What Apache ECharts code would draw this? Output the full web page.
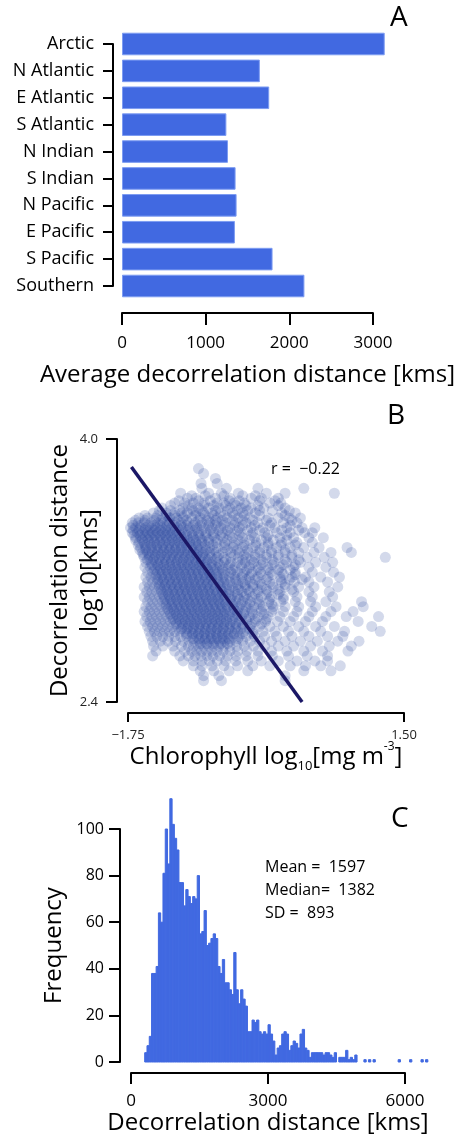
<!DOCTYPE html>
<html><head><meta charset="utf-8">
<script src="https://cdn.jsdelivr.net/npm/echarts@6/dist/echarts.min.js"></script>
<style>html,body{margin:0;padding:0;background:#fff}#c{width:457px;height:1139px}</style>
</head><body><div id="c"></div>
<script>
// ---------- Panel A data ----------
const regions = ['Arctic','N Atlantic','E Atlantic','S Atlantic','N Indian','S Indian','N Pacific','E Pacific','S Pacific','Southern'];
const avgDecorr = [3141, 1648, 1760, 1248, 1267, 1358, 1370, 1350, 1800, 2181];

// ---------- Panel B data (log10 chlorophyll vs log10 decorrelation distance) ----------
const rowY = [3.82,3.79,3.76,3.73,3.70,3.67,3.64,3.61,3.58,3.55,3.52,3.49,3.46,3.43,3.40,3.37,3.34,3.31,3.28,3.25,3.22,3.19,3.16,3.13,3.10,3.07,3.04,3.01,2.98,2.95,2.92,2.89,2.86,2.83,2.80,2.77,2.74,2.71,2.68,2.65,2.62,2.59,2.56,2.53];
const rowX = [
 [-0.92],
 [-0.86],
 [-0.72],
 [-0.89,-0.70],
 [-0.88,-0.59,-0.22,0.32],
 [-1.13,-0.80,-0.65,-0.45,-0.12,0.10,0.68],
 [-1.05,-0.95,-0.72,-0.55,-0.30,-0.18,0.02],
 [-1.20,-1.08,-0.98,-0.85,-0.70,-0.62,-0.50,-0.38,-0.08,0.05],
 [-1.35,-1.10,-1.00,-0.92,-0.80,-0.68,-0.55,-0.42,-0.30,-0.15,0.10],
 [-1.45,-1.30,-1.20,-1.12,-1.05,-0.95,-0.86,-0.76,-0.66,-0.52,-0.40,-0.25,0.06,0.22],
 [-1.62,-1.52,-1.42,-1.34,-1.26,-1.18,-1.10,-1.00,-0.90,-0.80,-0.70,-0.58,-0.45,-0.32,-0.10,0.02,0.15,0.28],
 [-1.70,-1.63,-1.56,-1.48,-1.40,-1.33,-1.26,-1.19,-1.12,-1.04,-0.96,-0.88,-0.79,-0.70,-0.60,-0.48,-0.36,-0.22,-0.06,0.08,0.24],
 [-1.72,-1.66,-1.60,-1.54,-1.48,-1.42,-1.36,-1.30,-1.24,-1.17,-1.10,-1.02,-0.94,-0.85,-0.76,-0.66,-0.55,-0.44,-0.30,-0.16,-0.02,0.12,0.30,0.45],
 [-1.70,-1.64,-1.58,-1.52,-1.46,-1.40,-1.34,-1.28,-1.22,-1.15,-1.08,-1.00,-0.92,-0.83,-0.74,-0.64,-0.54,-0.42,-0.28,-0.14,0.00,0.16,0.33,0.42],
 [-1.66,-1.60,-1.54,-1.48,-1.42,-1.36,-1.30,-1.24,-1.18,-1.12,-1.05,-0.98,-0.90,-0.82,-0.73,-0.63,-0.52,-0.40,-0.26,-0.12,0.04,0.20,0.38,0.55],
 [-1.62,-1.56,-1.50,-1.44,-1.38,-1.32,-1.26,-1.20,-1.14,-1.08,-1.02,-0.95,-0.88,-0.80,-0.71,-0.61,-0.50,-0.38,-0.24,-0.10,0.06,0.24,0.42],
 [-1.60,-1.54,-1.48,-1.42,-1.36,-1.30,-1.24,-1.18,-1.12,-1.06,-1.00,-0.94,-0.87,-0.79,-0.70,-0.61,-0.51,-0.40,-0.28,-0.15,0.00,0.16,0.32,0.50,0.83],
 [-1.58,-1.52,-1.46,-1.40,-1.34,-1.28,-1.22,-1.16,-1.10,-1.04,-0.98,-0.92,-0.86,-0.79,-0.71,-0.63,-0.54,-0.44,-0.33,-0.20,-0.06,0.10,0.26,0.44,0.64,0.88],
 [-1.56,-1.50,-1.44,-1.38,-1.32,-1.26,-1.20,-1.14,-1.08,-1.02,-0.96,-0.90,-0.84,-0.77,-0.70,-0.62,-0.54,-0.45,-0.36,-0.25,-0.12,0.02,0.18,0.36,0.56,1.28],
 [-1.54,-1.48,-1.42,-1.36,-1.30,-1.24,-1.18,-1.12,-1.06,-1.00,-0.94,-0.88,-0.82,-0.76,-0.69,-0.62,-0.54,-0.46,-0.37,-0.27,-0.16,-0.03,0.12,0.28,0.46,0.66],
 [-1.55,-1.49,-1.43,-1.37,-1.31,-1.25,-1.19,-1.13,-1.07,-1.01,-0.95,-0.89,-0.83,-0.77,-0.71,-0.64,-0.57,-0.49,-0.41,-0.32,-0.22,-0.10,0.04,0.20,0.38,0.58],
 [-1.52,-1.46,-1.40,-1.34,-1.28,-1.22,-1.16,-1.10,-1.04,-0.98,-0.92,-0.86,-0.80,-0.74,-0.68,-0.61,-0.54,-0.46,-0.38,-0.29,-0.19,-0.07,0.06,0.22,0.42,0.67],
 [-1.54,-1.48,-1.42,-1.36,-1.30,-1.24,-1.18,-1.12,-1.06,-1.00,-0.94,-0.88,-0.82,-0.76,-0.70,-0.63,-0.56,-0.49,-0.41,-0.32,-0.22,-0.10,0.04,0.18,0.34,0.52,0.74],
 [-1.52,-1.46,-1.40,-1.34,-1.28,-1.22,-1.16,-1.10,-1.04,-0.98,-0.92,-0.86,-0.80,-0.74,-0.68,-0.62,-0.55,-0.48,-0.40,-0.31,-0.20,-0.08,0.06,0.21,0.38,0.60],
 [-1.56,-1.50,-1.44,-1.38,-1.32,-1.26,-1.20,-1.14,-1.08,-1.02,-0.96,-0.90,-0.84,-0.78,-0.72,-0.66,-0.59,-0.52,-0.45,-0.37,-0.28,-0.17,-0.04,0.10,0.26,0.44,0.72],
 [-1.53,-1.47,-1.41,-1.35,-1.29,-1.23,-1.17,-1.11,-1.05,-0.99,-0.93,-0.87,-0.81,-0.75,-0.69,-0.63,-0.56,-0.49,-0.41,-0.32,-0.22,-0.10,0.04,0.20,0.38,0.62],
 [-1.56,-1.50,-1.44,-1.38,-1.32,-1.26,-1.20,-1.14,-1.08,-1.02,-0.96,-0.90,-0.84,-0.78,-0.72,-0.66,-0.60,-0.53,-0.46,-0.38,-0.29,-0.18,-0.06,0.08,0.24,0.42,0.66],
 [-1.52,-1.46,-1.40,-1.34,-1.28,-1.22,-1.16,-1.10,-1.04,-0.98,-0.92,-0.86,-0.80,-0.74,-0.68,-0.62,-0.55,-0.48,-0.40,-0.31,-0.21,-0.09,0.05,0.22,0.40,0.58,1.00],
 [-1.54,-1.48,-1.42,-1.36,-1.30,-1.24,-1.18,-1.12,-1.06,-1.00,-0.94,-0.88,-0.82,-0.76,-0.70,-0.64,-0.58,-0.51,-0.44,-0.36,-0.27,-0.16,-0.04,0.10,0.26,0.46,0.70,1.02],
 [-1.56,-1.50,-1.44,-1.38,-1.32,-1.26,-1.20,-1.14,-1.08,-1.02,-0.96,-0.90,-0.84,-0.78,-0.72,-0.66,-0.60,-0.53,-0.46,-0.38,-0.29,-0.18,-0.06,0.08,0.24,0.42,0.64,0.90],
 [-1.53,-1.47,-1.41,-1.35,-1.29,-1.23,-1.17,-1.11,-1.05,-0.99,-0.93,-0.87,-0.81,-0.75,-0.69,-0.63,-0.56,-0.49,-0.41,-0.32,-0.22,-0.10,0.04,0.20,0.38,0.58,0.82,1.20],
 [-1.55,-1.49,-1.43,-1.37,-1.31,-1.25,-1.19,-1.13,-1.07,-1.01,-0.95,-0.89,-0.83,-0.77,-0.71,-0.65,-0.59,-0.52,-0.44,-0.35,-0.25,-0.13,0.01,0.16,0.34,0.54,0.96],
 [-1.52,-1.46,-1.40,-1.34,-1.28,-1.22,-1.16,-1.10,-1.04,-0.98,-0.92,-0.86,-0.80,-0.74,-0.68,-0.62,-0.55,-0.48,-0.40,-0.31,-0.20,-0.08,0.08,0.26,0.46,0.68,1.12],
 [-1.50,-1.44,-1.38,-1.32,-1.26,-1.20,-1.14,-1.08,-1.02,-0.96,-0.90,-0.84,-0.78,-0.72,-0.66,-0.60,-0.53,-0.46,-0.38,-0.28,-0.16,-0.02,0.14,0.32,0.52,0.80,1.22],
 [-1.48,-1.41,-1.34,-1.27,-1.20,-1.13,-1.06,-1.00,-0.94,-0.88,-0.82,-0.76,-0.70,-0.64,-0.58,-0.51,-0.44,-0.36,-0.26,-0.14,0.00,0.18,0.38,0.60,0.78],
 [-1.46,-1.37,-1.28,-1.19,-1.10,-1.03,-0.97,-0.91,-0.85,-0.79,-0.73,-0.67,-0.61,-0.55,-0.48,-0.40,-0.31,-0.20,-0.06,0.10,0.28,0.48,0.72,0.97],
 [-1.45,-1.34,-1.22,-1.12,-1.04,-0.98,-0.92,-0.86,-0.80,-0.74,-0.68,-0.62,-0.55,-0.47,-0.38,-0.27,-0.14,0.02,0.20,0.40,0.62,0.88],
 [-1.42,-1.20,-1.08,-1.00,-0.94,-0.88,-0.82,-0.76,-0.70,-0.63,-0.55,-0.46,-0.35,-0.22,-0.06,0.12,0.32,0.54,0.84],
 [-1.46,-1.14,-1.04,-0.96,-0.89,-0.82,-0.75,-0.67,-0.58,-0.48,-0.36,-0.22,-0.05,0.14,0.36,0.60],
 [-1.10,-0.98,-0.88,-0.79,-0.70,-0.60,-0.48,-0.34,-0.18,0.02,0.24,0.45,0.60],
 [-0.98,-0.88,-0.76,-0.62,-0.46,-0.28,-0.08,0.16,0.34,0.52,0.75],
 [-0.90,-0.74,-0.56,-0.34,0.32,0.64],
 [-0.86,-0.68,0.10],
 [-0.86,-0.65,0.10]
];
// points lying between the rows above (upper lobe and dense core of the cloud)
const coreY = [3.655,3.625,3.595,3.565,3.535,3.505,3.475,3.445,3.415,3.385,3.355,3.325,3.295,3.265,3.235,3.205,3.175,3.145,3.115,3.085,3.055,3.025,2.995,2.965,2.935,2.905,2.875,2.845,2.815,2.785,2.755];
const coreX = [
 [-1.00,-0.84,-0.62,-0.40,-0.25],
 [-1.15,-0.92,-0.78,-0.56,-0.44,-0.20,-0.02],
 [-1.25,-1.04,-0.86,-0.74,-0.60,-0.48,-0.36,-0.22,0.02],
 [-1.38,-1.25,-1.14,-0.98,-0.88,-0.72,-0.58,-0.46,-0.34,-0.20,-0.05,0.15],
 [-1.55,-1.40,-1.30,-1.20,-1.08,-0.96,-0.84,-0.74,-0.62,-0.50,-0.38,-0.20,0.10],
 [-1.66,-1.55,-1.44,-1.36,-1.28,-1.16,-1.06,-0.92,-0.82,-0.72,-0.64,-0.52,-0.40,-0.28,-0.12,0.18],
 [-1.69,-1.60,-1.51,-1.44,-1.37,-1.29,-1.21,-1.13,-1.06,-0.98,-0.90,-0.80,-0.72,-0.62,-0.50,-0.40,-0.26,-0.08,0.16],
 [-1.69,-1.62,-1.55,-1.49,-1.43,-1.37,-1.31,-1.25,-1.19,-1.12,-1.04,-0.96,-0.88,-0.78,-0.68,-0.58,-0.46,-0.34,-0.20,0.06,0.26],
 [-1.68,-1.61,-1.55,-1.49,-1.43,-1.37,-1.31,-1.25,-1.19,-1.13,-1.06,-0.99,-0.92,-0.84,-0.75,-0.66,-0.56,-0.44,-0.30,-0.10,0.12],
 [-1.66,-1.58,-1.51,-1.44,-1.37,-1.30,-1.23,-1.16,-1.09,-1.02,-0.95,-0.88,-0.80,-0.70,-0.58,-0.45,-0.32,-0.18,-0.04,0.12],
 [-1.63,-1.55,-1.48,-1.41,-1.34,-1.27,-1.20,-1.13,-1.06,-0.99,-0.92,-0.84,-0.75,-0.62,-0.50,-0.38,-0.25,-0.10,0.05,0.22],
 [-1.61,-1.54,-1.47,-1.40,-1.33,-1.26,-1.19,-1.12,-1.05,-0.98,-0.91,-0.83,-0.74,-0.58,-0.46,-0.34,-0.20,-0.06,0.10],
 [-1.57,-1.50,-1.43,-1.36,-1.29,-1.22,-1.15,-1.08,-1.01,-0.94,-0.87,-0.79,-0.68,-0.50,-0.38,-0.25,-0.12,0.02,0.18],
 [-1.52,-1.45,-1.38,-1.31,-1.24,-1.17,-1.10,-1.03,-0.96,-0.89,-0.81,-0.72,-0.60,-0.40,-0.30,-0.18,-0.05,0.10,0.26],
 [-1.47,-1.40,-1.33,-1.26,-1.19,-1.12,-1.05,-0.98,-0.91,-0.84,-0.76,-0.67,-0.55,-0.42,-0.30,-0.18,-0.05,0.08,0.22],
 [-1.44,-1.37,-1.30,-1.23,-1.16,-1.09,-1.02,-0.95,-0.88,-0.81,-0.73,-0.64,-0.52,-0.35,-0.22,-0.10,0.02,0.16],
 [-1.42,-1.35,-1.28,-1.21,-1.14,-1.07,-1.00,-0.93,-0.86,-0.79,-0.71,-0.62,-0.50,-0.40,-0.30,-0.18,-0.05,0.08,0.22],
 [-1.40,-1.33,-1.26,-1.19,-1.12,-1.05,-0.98,-0.91,-0.84,-0.77,-0.69,-0.60,-0.48,-0.36,-0.25,-0.12,0.05,0.15,0.30],
 [-1.38,-1.31,-1.24,-1.17,-1.10,-1.03,-0.96,-0.89,-0.82,-0.75,-0.67,-0.58,-0.46,-0.37,-0.28,-0.18,-0.05,0.10],
 [-1.36,-1.29,-1.22,-1.15,-1.08,-1.01,-0.94,-0.87,-0.80,-0.73,-0.65,-0.56,-0.45,-0.34,-0.22,-0.12,0.02,0.18],
 [-1.34,-1.27,-1.20,-1.13,-1.06,-0.99,-0.92,-0.85,-0.78,-0.71,-0.64,-0.56,-0.46,-0.36,-0.25,-0.12,0.02],
 [-1.32,-1.25,-1.18,-1.11,-1.04,-0.97,-0.90,-0.83,-0.76,-0.69,-0.62,-0.54,-0.44,-0.34,-0.22,-0.08,0.08],
 [-1.30,-1.23,-1.16,-1.09,-1.02,-0.95,-0.88,-0.81,-0.74,-0.67,-0.60,-0.52,-0.42,-0.32,-0.20,-0.06],
 [-1.28,-1.21,-1.14,-1.07,-1.00,-0.93,-0.86,-0.79,-0.72,-0.65,-0.58,-0.50,-0.40,-0.30,-0.18,-0.04],
 [-1.25,-1.18,-1.11,-1.04,-0.97,-0.90,-0.83,-0.76,-0.69,-0.62,-0.55,-0.47,-0.39,-0.28,-0.15],
 [-1.22,-1.15,-1.08,-1.01,-0.94,-0.87,-0.80,-0.73,-0.66,-0.59,-0.52,-0.44,-0.36,-0.25,-0.12],
 [-1.18,-1.11,-1.04,-0.97,-0.90,-0.83,-0.76,-0.69,-0.62,-0.55,-0.48,-0.40,-0.30,-0.18],
 [-1.12,-1.05,-0.98,-0.91,-0.84,-0.77,-0.70,-0.63,-0.56,-0.49,-0.42,-0.32],
 [-1.06,-0.99,-0.92,-0.85,-0.78,-0.71,-0.64,-0.57,-0.50,-0.40,-0.28],
 [-0.98,-0.91,-0.84,-0.77,-0.70,-0.63,-0.56,-0.46],
 [-0.90,-0.82,-0.74,-0.66,-0.58]
];
const fitX = [-1.71, 0.30];
const fitY = [3.83, 2.40];

// ---------- Panel C data (histogram, 50 km bins starting at 300 km) ----------
const histFirstBin = 300;
const histBinWidth = 50;
const histCounts = [4,7,11,38,38,41,64,60,81,100,85,113,102,96,91,77,77,67,74,71,68,71,70,80,55,56,65,50,51,53,55,53,41,38,44,34,34,31,29,47,31,25,31,27,24,13,13,18,17,18,
 13,12,13,12,16,12,9,3,6,7,12,13,12,5,7,9,8,6,12,14,6,5,2,4,4,4,4,4,3,4,4,3,2,4,0,2,2,2,5,1,2,1,3,0,0,0,
 1,0,1,0,1,0,0,0,0,0,0,0,0,0,0,1,0,0,0,0,1,0,0,0,0,1,0,1];
const stats = ['Mean =  1597', 'Median=  1382', 'SD =  893'];

// ---------- build ----------
const FONT = 'Open Sans';
const BLUE = '#4169E1';
const scatterPts = [];
rowY.forEach((y, i) => rowX[i].forEach(x => scatterPts.push([x, y])));
coreY.forEach((y, i) => coreX[i].forEach(x => scatterPts.push([x, y])));
const histData = [];
histCounts.forEach((c, i) => { if (c > 0) { const s = histFirstBin + i * histBinWidth; histData.push([s, s + histBinWidth, c]); } });

const axisLine = { show: true, onZero: false, lineStyle: { color: '#000', width: 2 } };
const tickStyle = (len) => ({ show: true, length: len, lineStyle: { color: '#000', width: 2 } });

const chart = echarts.init(document.getElementById('c'), null, { renderer: 'canvas' });
chart.setOption({
  animation: false,
  textStyle: { fontFamily: FONT, color: '#000' },
  grid: [
    { left: 122, width: 254, top: 44, height: 242 },
    { left: 128, width: 276, top: 439, height: 263 },
    { left: 131, width: 274, top: 829, height: 233 }
  ],
  xAxis: [
    { gridIndex: 0, type: 'value', min: 0, max: 3000, interval: 1000, offset: 27,
      axisLine, axisTick: tickStyle(12), splitLine: { show: false },
      axisLabel: { fontSize: 17, margin: 22, color: '#000', fontFamily: FONT, formatter: v => String(v) },
      name: 'Average decorrelation distance [kms]', nameLocation: 'middle', nameGap: 50, nameMoveOverlap: false,
      nameTextStyle: { fontSize: 24, color: '#000', fontFamily: FONT } },
    { gridIndex: 1, type: 'value', min: -1.75, max: 1.5, offset: 11,
      axisLine, axisTick: Object.assign(tickStyle(9), { customValues: [-1.75, 1.5] }), splitLine: { show: false },
      axisLabel: { customValues: [-1.75, 1.5], fontSize: 13, margin: 16, color: '#222', fontFamily: FONT,
        formatter: v => (v < 0 ? '\u2212' + Math.abs(v).toFixed(2) : v.toFixed(2)) },
      name: '{a|Chlorophyll log}{s|10}{a|[mg m}{p|-3}{a|]}', nameLocation: 'middle', nameGap: 28, nameMoveOverlap: false,
      nameTextStyle: { rich: {
        a: { fontSize: 24, lineHeight: 32, fontFamily: FONT, color: '#000' },
        s: { fontSize: 13, lineHeight: 13, verticalAlign: 'bottom', fontFamily: FONT, color: '#000' },
        p: { fontSize: 12, lineHeight: 16, verticalAlign: 'top', fontFamily: FONT, color: '#000' } } } },
    { gridIndex: 2, type: 'value', min: 0, max: 6000, interval: 3000, offset: 11,
      axisLine, axisTick: tickStyle(11), splitLine: { show: false },
      axisLabel: { fontSize: 17, margin: 20, color: '#000', fontFamily: FONT, formatter: v => String(v) },
      name: 'Decorrelation distance [kms]', nameLocation: 'middle', nameGap: 38, nameMoveOverlap: false,
      nameTextStyle: { fontSize: 24, color: '#000', fontFamily: FONT } }
  ],
  yAxis: [
    { gridIndex: 0, type: 'category', data: regions, inverse: true, boundaryGap: false, offset: 9,
      axisLine, axisTick: tickStyle(10),
      axisLabel: { fontSize: 18, margin: 19, color: '#000', fontFamily: FONT } },
    { gridIndex: 1, type: 'value', min: 2.4, max: 4.0, offset: 11,
      axisLine, axisTick: Object.assign(tickStyle(11), { customValues: [2.4, 4.0] }), splitLine: { show: false },
      axisLabel: { customValues: [2.4, 4.0], fontSize: 13, margin: 19, color: '#222', fontFamily: FONT,
        formatter: v => v.toFixed(1) },
      name: 'Decorrelation distance\nlog10[kms]', nameLocation: 'middle', nameGap: 12, nameRotate: 90, nameMoveOverlap: false,
      nameTextStyle: { fontSize: 24, lineHeight: 30, color: '#000', fontFamily: FONT, align: 'center' } },
    { gridIndex: 2, type: 'value', min: 0, max: 100, interval: 20, offset: 11,
      axisLine, axisTick: tickStyle(11), splitLine: { show: false },
      axisLabel: { fontSize: 16, margin: 16, color: '#000', fontFamily: FONT },
      name: 'Frequency', nameLocation: 'middle', nameGap: 54, nameMoveOverlap: false,
      nameTextStyle: { fontSize: 24, color: '#000', fontFamily: FONT } }
  ],
  series: [
    { type: 'bar', xAxisIndex: 0, yAxisIndex: 0, data: avgDecorr, barWidth: '84%', clip: false,
      itemStyle: { color: BLUE, borderColor: '#7d9cf2', borderWidth: 1 } },
    { type: 'scatter', xAxisIndex: 1, yAxisIndex: 1, data: scatterPts, symbolSize: 11, clip: false, silent: true,
      itemStyle: { color: '#21409a', opacity: 0.2 } },
    { type: 'line', xAxisIndex: 1, yAxisIndex: 1, data: fitX.map((x, i) => [x, fitY[i]]), symbol: 'none', z: 5,
      lineStyle: { color: '#1b1766', width: 3.5 } },
    { type: 'custom', xAxisIndex: 2, yAxisIndex: 2, data: histData, clip: false,
      encode: { x: [0, 1], y: 2 },
      renderItem: (params, api) => {
        const p0 = api.coord([api.value(0), api.value(2)]);
        const p1 = api.coord([api.value(1), 0]);
        return { type: 'rect', shape: { x: p0[0], y: p0[1], width: p1[0] - p0[0], height: p1[1] - p0[1] },
          style: { fill: BLUE, stroke: BLUE, lineWidth: 1 } };
      } }
  ],
  graphic: [
    { type: 'text', left: 390, top: 4, style: { text: 'A', font: '28px "Open Sans"', fill: '#000' } },
    { type: 'text', left: 387, top: 402, style: { text: 'B', font: '28px "Open Sans"', fill: '#000' } },
    { type: 'text', left: 391, top: 805, style: { text: 'C', font: '28px "Open Sans"', fill: '#000' } },
    { type: 'text', left: 271, top: 461, style: { text: 'r =  \u22120.22', font: '16px "Open Sans"', fill: '#000' } },
    { type: 'text', left: 265, top: 856, style: { text: stats.join('\n'), font: '16px "Open Sans"', lineHeight: 23, fill: '#000' } }
  ]
});
</script></body></html>
